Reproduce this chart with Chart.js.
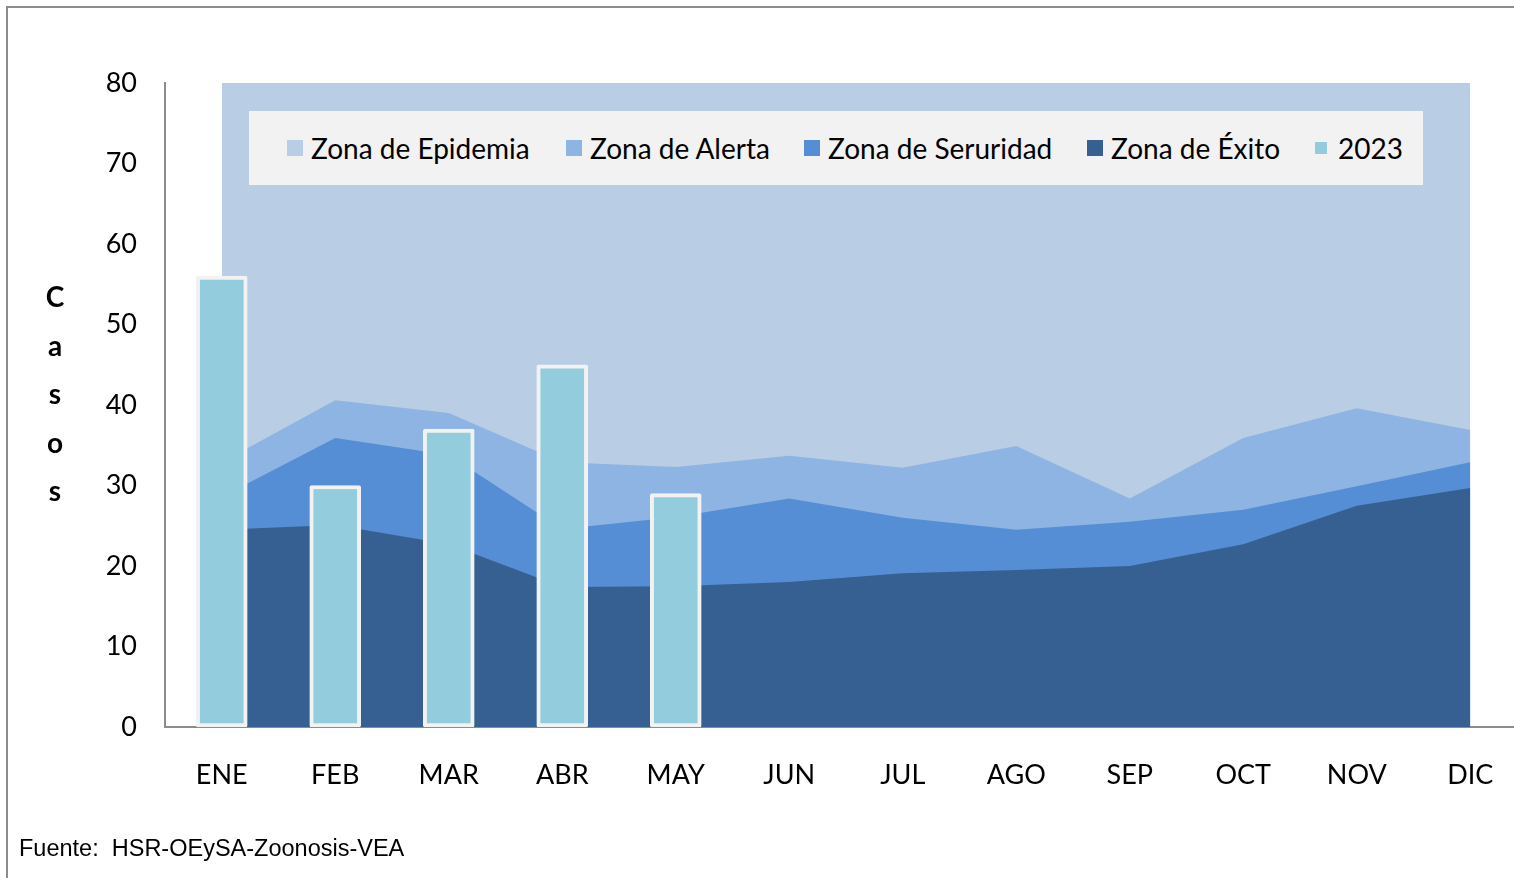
<!DOCTYPE html>
<html>
<head>
<meta charset="utf-8">
<script src="https://cdn.jsdelivr.net/npm/chart.js@4"></script>
<style>
    html, body { margin: 0; padding: 0; width: 1514px; height: 878px; overflow: hidden; background: #fff; }
    #frame { position: absolute; left: 6px; top: 6px; width: 1600px; height: 1000px; border: 2px solid #8c8c8c; }
    #wrap { position: absolute; left: 0; top: 0; width: 1560px; height: 878px; }
    #legend { position: absolute; left: 249px; top: 111px; width: 1174px; height: 74px; background: #F2F2F2; font-family: Lato, sans-serif; font-size: 28px; color: #000; }
    .item { position: absolute; top: 0; height: 74px; display: flex; align-items: center; white-space: nowrap; }
    .box { display: inline-block; width: 16px; height: 16px; margin-right: 8px; }
    #ytitle { position: absolute; left: 40px; top: 272px; width: 30px; font-family: Lato, sans-serif; font-weight: bold; font-size: 28px; text-align: center; line-height: 48.5px; }
    #source { position: absolute; left: 19px; top: 835px; font-family: "Liberation Sans", Arial, sans-serif; font-size: 23.5px; white-space: pre; }
</style>
</head>
<body>
<div id="frame"></div>
<div id="wrap"><canvas id="canalChart" width="1560" height="878"></canvas></div>
<div id="ytitle">C<br>a<br>s<br>o<br>s</div>
<div id="legend"></div>
<div id="source">Fuente:  HSR-OEySA-Zoonosis-VEA</div>
<script>
// months
const meses = ['ENE', 'FEB', 'MAR', 'ABR', 'MAY', 'JUN', 'JUL', 'AGO', 'SEP', 'OCT', 'NOV', 'DIC'];

// upper limit of each zone
const zonaEpidemia = [80, 80, 80, 80, 80, 80, 80, 80, 80, 80, 80, 80];
const zonaAlerta = [32.9, 40.6, 39.0, 32.9, 32.3, 33.7, 32.2, 34.9, 28.4, 35.9, 39.6, 36.9];
const zonaSeguridad = [28.6, 35.9, 33.8, 24.6, 26.1, 28.4, 26.0, 24.5, 25.5, 27.0, 29.9, 32.9];
const zonaExito = [24.5, 25.1, 22.7, 17.4, 17.5, 18.0, 19.1, 19.5, 20.0, 22.7, 27.5, 29.7];

// cases 2023
const casos2023 = [56, 30, 37, 45, 29, null, null, null, null, null, null, null];

const yTicks = [0, 10, 20, 30, 40, 50, 60, 70, 80];

const COLORS = {
    epidemia: '#B9CDE5',
    alerta: '#8EB4E3',
    seguridad: '#558ED5',
    exito: '#376092',
    casos: '#93CDDD'
};

// legend positions (x inside the page)
const legendItems = [
    { label: 'Zona de Epidemia', color: COLORS.epidemia, x: 287, size: 16 },
    { label: 'Zona de Alerta', color: COLORS.alerta, x: 566, size: 16 },
    { label: 'Zona de Seruridad', color: COLORS.seguridad, x: 804, size: 16 },
    { label: 'Zona de Éxito', color: COLORS.exito, x: 1087, size: 16 },
    { label: '2023', color: COLORS.casos, x: 1315, size: 12 }
];

const legend = document.getElementById('legend');
legendItems.forEach(it => {
    const div = document.createElement('div');
    div.className = 'item';
    div.style.left = (it.x - 249) + 'px';
    div.innerHTML = `<span class="box" style="background:${it.color};width:${it.size}px;height:${it.size}px;${it.size < 16 ? 'margin-right:11px;' : ''}"></span>${it.label}`;
    legend.appendChild(div);
});

function zone(label, data, color, order) {
    return {
        type: 'line',
        label: label,
        data: data,
        backgroundColor: color,
        borderWidth: 0,
        pointRadius: 0,
        fill: 'origin',
        tension: 0,
        order: order
    };
}

const ctx = document.getElementById('canalChart').getContext('2d');
window.canalChart = new Chart(ctx, {
    type: 'bar',
    data: {
        labels: meses,
        datasets: [
            {
                type: 'bar',
                label: '2023',
                data: casos2023,
                backgroundColor: COLORS.casos,
                borderColor: '#F2F2F2',
                borderWidth: 4,
                borderSkipped: false,
                borderRadius: 2,
                barThickness: 51,
                order: 0
            },
            zone('Zona de Éxito', zonaExito, COLORS.exito, 1),
            zone('Zona de Seruridad', zonaSeguridad, COLORS.seguridad, 2),
            zone('Zona de Alerta', zonaAlerta, COLORS.alerta, 3),
            zone('Zona de Epidemia', zonaEpidemia, COLORS.epidemia, 4)
        ]
    },
    options: {
        responsive: false,
        animation: false,
        layout: { padding: { left: 0, top: 83, right: 33, bottom: 51 } },
        plugins: {
            legend: { display: false },
            tooltip: { enabled: false }
        },
        scales: {
            x: {
                offset: true,
                grid: { display: false, drawTicks: false },
                border: { color: '#8c8c8c', width: 2 },
                ticks: { color: '#000', font: { family: 'Lato', size: 27 }, padding: 32, maxRotation: 0 },
                afterFit: s => { s.height = 100; }
            },
            y: {
                min: 0,
                max: 80,
                afterBuildTicks: s => { s.ticks = yTicks.map(v => ({ value: v })); },
                grid: { display: false, drawTicks: false },
                border: { color: '#8c8c8c', width: 2 },
                ticks: { color: '#000', font: { family: 'Lato', size: 27 }, padding: 28 },
                afterFit: s => { s.width = 165; }
            }
        }
    }
});
</script>
</body>
</html>
